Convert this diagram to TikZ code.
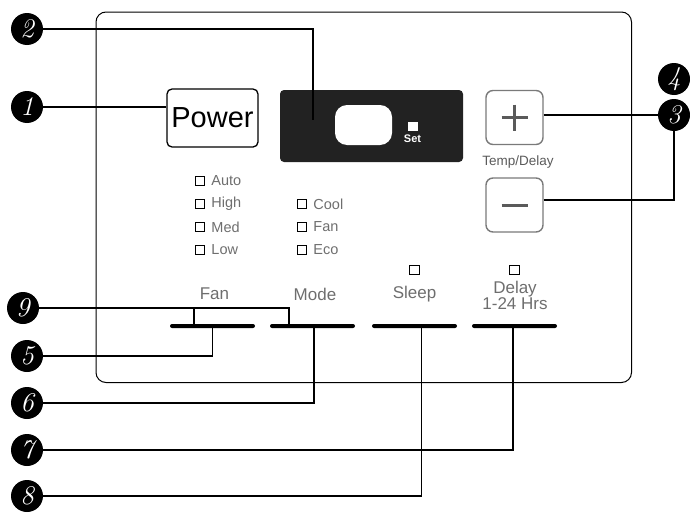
\documentclass[tikz,border=0pt]{standalone}
\usepackage{fontspec}
\newfontfamily\arial{Liberation Sans}
\usetikzlibrary{positioning,calc}
\definecolor{slate}{HTML}{6E6E6E}
\definecolor{ash}{HTML}{7A7A7A}
\definecolor{smoke}{HTML}{5A5A5A}
\definecolor{screen}{HTML}{222222}
\tikzset{callout/.style={circle,fill=black,text=white,minimum size=32pt,inner sep=0pt,font=\fontsize{27}{27}\selectfont\itshape},lead/.style={line width=1.4pt,draw=black},key/.style={draw=black,line width=1.3pt,rounded corners=5pt,inner sep=0pt},pad/.style={draw=ash,line width=1.4pt,rounded corners=7pt,minimum width=57pt,minimum height=54pt,inner sep=0pt},sign/.style={draw=smoke,line width=3pt},bar/.style={fill=black,rounded corners=2pt,minimum width=85pt,minimum height=4pt,inner sep=0pt},chk/.style={draw=black,line width=1pt,minimum size=9.5pt,inner sep=0pt},opt/.style={text=slate,inner sep=0pt,font=\arial\fontsize{14.5}{14.5}\selectfont},lbl/.style={text=slate,inner sep=0pt,align=center,font=\arial\fontsize{17}{16}\selectfont}}
\begin{document}
\begin{tikzpicture}[x=1pt,y=-1pt]
\useasboundingbox (0,0) rectangle (690,514);
% front panel
\node[draw=black,line width=1pt,rounded corners=10pt,minimum width=535.5pt,minimum height=370.5pt,inner sep=0pt] (panel) at (363.75,197.25) {};
% power key and display
\node[key,minimum width=91pt,minimum height=58pt,font=\arial\fontsize{29}{29}\selectfont] (power) at (212.5,118) {Power};
\node[fill=screen,rounded corners=4pt,minimum width=183pt,minimum height=72pt,inner sep=0pt] (disp) at (371.5,126) {};
\node[fill=white,rounded corners=12pt,minimum width=57pt,minimum height=40pt,inner sep=0pt] (win) at (363.5,125) {};
\node[fill=white,minimum width=10pt,minimum height=9pt,inner sep=0pt] (setled) at (413,126.5) {};
\node[text=white,inner sep=0pt,font=\arial\bfseries\fontsize{11}{11}\selectfont] (set) at (412.5,138.5) {Set};
\coordinate (dispin) at ($(disp.west)+(33,-6)$);
% temp/delay keys
\node[pad] (plus) at (514.5,117.5) {};
\node[pad] (minus) at (514.5,205) {};
\draw[sign] ($(plus.center)+(-13,0)$) -- ($(plus.center)+(13,0)$);\draw[sign] ($(plus.center)+(0,-13)$) -- ($(plus.center)+(0,13)$);
\draw[sign] ($(minus.center)+(-13,0)$) -- ($(minus.center)+(13,0)$);
\node[text=smoke,inner sep=0pt,font=\arial\fontsize{13.5}{13.5}\selectfont] (temp) at (518,162) {Temp/Delay};
% indicator lights
\node[chk] (kauto) at (200,181) {};\node[opt,right=6pt of kauto] (tauto) {Auto};
\node[chk] (khigh) at (200,204) {};\node[opt,right=6pt of khigh] (thigh) {High};
\node[chk] (kmed) at (200,227) {};\node[opt,right=6pt of kmed] (tmed) {Med};
\node[chk] (klow) at (200,250) {};\node[opt,right=6pt of klow] (tlow) {Low};
\node[chk] (kcool) at (302,204) {};\node[opt,right=6pt of kcool] (tcool) {Cool};
\node[chk] (kfan) at (302,227) {};\node[opt,right=6pt of kfan] (tfan) {Fan};
\node[chk] (keco) at (302,250) {};\node[opt,right=6pt of keco] (teco) {Eco};
\node[chk] (ksleep) at (414.5,270) {};
\node[chk] (kdelay) at (514.5,270) {};
% touch bars
\node[bar] (fanb) at (212.5,326) {};
\node[bar] (modeb) at (312.5,326) {};
\node[bar] (sleepb) at (414.5,326) {};
\node[bar] (delayb) at (514.5,326) {};
\node[lbl] (fan) at (214.5,294) {Fan};
\node[lbl] (mode) at (315,294) {Mode};
\node[lbl] (sleep) at (414.5,294) {Sleep};
\node[lbl] (delay) at (515,295) {Delay\\1-24 Hrs};
% callouts
\node[callout] (c1) at (27,107) {1};
\node[callout] (c2) at (27,29) {2};
\node[callout] (c3) at (674,115) {3};
\node[callout] (c4) at (674,79) {4};
\node[callout] (c5) at (27,356) {5};
\node[callout] (c6) at (27,403) {6};
\node[callout] (c7) at (27,450) {7};
\node[callout] (c8) at (27,496) {8};
\node[callout] (c9) at (23,308) {9};
\draw[lead] (c1.east) -- (c1.east -| power.west);
\draw[lead] (c2.east) -| (dispin);
\draw[lead] (c3.west -| plus.east) -- (c3.west);
\draw[lead] ($(minus.east)+(0,-5)$) -| (c3.south);
\draw[lead] (c5.east) -| (fanb.south);
\draw[lead] (c6.east) -| ($(modeb.south)+(1.5,0)$);
\draw[lead] (c7.east) -| ($(delayb.south)+(-1.5,0)$);
\draw[lead] (c8.east) -| ($(sleepb.south)+(7,0)$);
\draw[lead] (c9.east) -| ($(modeb.north west)+(19,0)$);
\draw[lead] ($(fanb.north west)+(24,0)$) |- (c9.east);
\end{tikzpicture}
\end{document}
